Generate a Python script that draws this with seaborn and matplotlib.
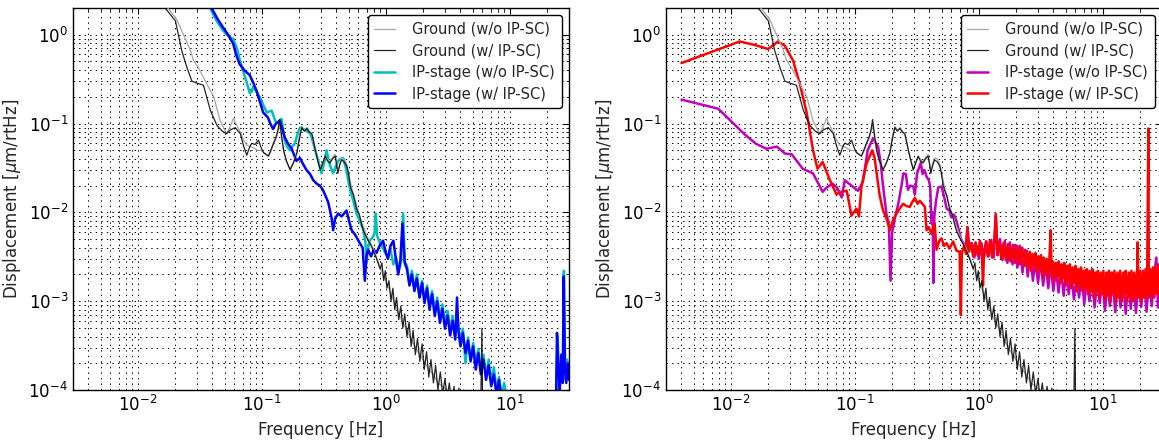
import matplotlib
matplotlib.use("Agg")
import matplotlib.pyplot as plt
import numpy as np
import pandas as pd
import seaborn as sns

# Amplitude spectral densities, (frequency [Hz], displacement [um/rtHz])

GROUND_WO = [
    (0.004, 20), (0.008, 10), (0.012, 5.0), (0.0170, 2.1), (0.0205, 1.5),
    (0.0235, 0.98), (0.0262, 0.70), (0.0282, 0.51), (0.0310, 0.42), (0.0338, 0.33),
    (0.0370, 0.26), (0.0410, 0.20), (0.0460, 0.108), (0.0520, 0.077), (0.0560, 0.095),
    (0.0590, 0.114), (0.0630, 0.095), (0.0670, 0.080), (0.0715, 0.065), (0.0756, 0.057),
    (0.0810, 0.055), (0.0860, 0.053), (0.0920, 0.050), (0.0980, 0.050), (0.103, 0.048),
    (0.108, 0.045), (0.113, 0.043), (0.118, 0.048), (0.124, 0.058), (0.130, 0.067),
    (0.135, 0.080), (0.139, 0.100), (0.144, 0.070), (0.150, 0.048), (0.158, 0.037),
    (0.169, 0.031), (0.180, 0.037), (0.192, 0.048), (0.200, 0.070), (0.210, 0.093),
    (0.220, 0.085), (0.231, 0.090), (0.242, 0.082), (0.253, 0.075), (0.262, 0.060),
    (0.270, 0.050), (0.283, 0.039), (0.296, 0.031), (0.310, 0.037), (0.324, 0.042),
    (0.338, 0.040), (0.354, 0.037), (0.372, 0.042), (0.390, 0.045), (0.400, 0.037),
    (0.410, 0.029), (0.425, 0.036), (0.440, 0.041), (0.462, 0.040), (0.485, 0.035),
    (0.500, 0.028), (0.530, 0.019), (0.580, 0.012), (0.635, 0.0080), (0.700, 0.0055),
    (0.800, 0.0038), (0.900, 0.0024), (0.960, 0.0019), (1.02, 0.0016), (1.10, 0.0012),
    (1.18, 0.00095), (1.27, 0.00072), (1.37, 0.00058), (1.48, 0.00047), (1.60, 0.00037),
    (1.73, 0.00030), (1.88, 0.00025), (2.04, 0.00021), (2.22, 0.00017), (2.42, 0.00015),
    (2.63, 0.00012), (2.87, 0.00011), (3.12, 0.00010), (3.55, 0.000085), (4.05, 0.00007),
    (5.0, 0.00005), (9.0, 0.00003), (30.0, 0.00002),
]

GROUND_W = [
    (0.004, 20), (0.008, 10), (0.012, 5.0), (0.0166, 2.0), (0.0201, 1.43),
    (0.0226, 0.66), (0.0250, 0.42), (0.0273, 0.30), (0.0300, 0.285), (0.0338, 0.27),
    (0.0385, 0.14), (0.0435, 0.095), (0.0480, 0.082), (0.052, 0.077), (0.056, 0.085),
    (0.061, 0.090), (0.067, 0.077), (0.0715, 0.055), (0.0756, 0.044), (0.080, 0.055),
    (0.083, 0.060), (0.088, 0.058), (0.094, 0.065), (0.098, 0.055), (0.103, 0.047),
    (0.108, 0.045), (0.113, 0.043), (0.118, 0.050), (0.124, 0.060), (0.130, 0.070),
    (0.135, 0.085), (0.139, 0.111), (0.144, 0.075), (0.150, 0.050), (0.158, 0.038),
    (0.169, 0.030), (0.180, 0.036), (0.192, 0.047), (0.200, 0.065), (0.210, 0.090),
    (0.220, 0.082), (0.231, 0.088), (0.242, 0.080), (0.253, 0.077), (0.262, 0.062),
    (0.270, 0.050), (0.283, 0.038), (0.296, 0.030), (0.310, 0.036), (0.324, 0.043),
    (0.338, 0.038), (0.354, 0.036), (0.372, 0.040), (0.390, 0.043), (0.400, 0.035),
    (0.410, 0.0275), (0.425, 0.034), (0.440, 0.039), (0.462, 0.037), (0.485, 0.033),
    (0.500, 0.027), (0.516, 0.020), (0.530, 0.0177), (0.550, 0.0155), (0.580, 0.011),
    (0.610, 0.0095), (0.635, 0.0075), (0.660, 0.0062), (0.700, 0.0052), (0.750, 0.0044),
    (0.800, 0.0036), (0.850, 0.0029), (0.900, 0.0023), (0.93, 0.0027), (0.96, 0.0017),
    (0.99, 0.0022), (1.02, 0.0014), (1.06, 0.0017), (1.10, 0.0010), (1.14, 0.0014),
    (1.18, 0.0008), (1.22, 0.0011), (1.27, 0.00062), (1.32, 0.00088), (1.37, 0.00050),
    (1.42, 0.00072), (1.48, 0.00040), (1.54, 0.00058), (1.60, 0.00031), (1.66, 0.00047),
    (1.73, 0.00025), (1.80, 0.00038), (1.88, 0.00021), (1.96, 0.00033), (2.04, 0.00017),
    (2.13, 0.00027), (2.22, 0.00014), (2.31, 0.00022), (2.42, 0.00012), (2.52, 0.00019),
    (2.63, 0.00010), (2.75, 0.00016), (2.87, 0.00009), (3.00, 0.000135), (3.12, 0.00008),
    (3.25, 0.00012), (3.40, 0.00007), (3.55, 0.00011), (3.70, 0.00006), (3.88, 0.000105),
    (4.05, 0.00005), (4.25, 0.0001), (4.45, 0.00005), (4.70, 0.000095), (5.00, 0.00004),
    (5.40, 0.00008), (5.80, 0.00004), (5.95, 0.00049), (6.05, 0.00004), (7.00, 0.000035),
    (9.00, 0.00003), (15.0, 0.000025), (30.0, 0.00002),
]

# Horizontal IP-stage, without / with IP sensor correction (left panel)
IPX_WO = [
    (0.004, 40), (0.010, 15), (0.020, 6.0), (0.030, 3.2), (0.0382, 2.0),
    (0.0432, 1.43), (0.0488, 1.11), (0.055, 0.93), (0.0588, 0.90), (0.063, 0.70),
    (0.067, 0.50), (0.071, 0.38), (0.075, 0.30), (0.080, 0.22), (0.083, 0.23),
    (0.085, 0.26), (0.090, 0.23), (0.096, 0.20), (0.103, 0.16), (0.110, 0.133),
    (0.120, 0.14), (0.126, 0.115), (0.131, 0.10), (0.137, 0.105), (0.144, 0.113),
    (0.153, 0.065), (0.160, 0.055), (0.168, 0.050), (0.176, 0.055), (0.185, 0.060),
    (0.195, 0.078), (0.203, 0.090), (0.212, 0.088), (0.222, 0.085), (0.232, 0.082),
    (0.244, 0.078), (0.252, 0.070), (0.260, 0.060), (0.272, 0.048), (0.285, 0.038),
    (0.303, 0.0275), (0.318, 0.036), (0.333, 0.050), (0.343, 0.040), (0.354, 0.034),
    (0.376, 0.0275), (0.394, 0.033), (0.413, 0.038), (0.430, 0.040), (0.453, 0.041),
    (0.475, 0.032), (0.497, 0.023), (0.520, 0.017), (0.545, 0.0137), (0.580, 0.0097),
    (0.620, 0.0078), (0.660, 0.0063), (0.685, 0.0045), (0.700, 0.0027), (0.715, 0.0038),
    (0.740, 0.0048), (0.780, 0.0052), (0.810, 0.0058), (0.830, 0.0097), (0.850, 0.0055),
    (0.895, 0.0045), (0.940, 0.0040), (0.990, 0.0035), (1.04, 0.0032), (1.09, 0.0038),
    (1.15, 0.0026), (1.21, 0.0031), (1.27, 0.0022), (1.33, 0.0028), (1.38, 0.0097),
    (1.42, 0.0028), (1.48, 0.0025), (1.55, 0.0016), (1.62, 0.0022), (1.70, 0.0014),
    (1.78, 0.0020), (1.87, 0.0011), (1.96, 0.0017), (2.05, 0.0010), (2.15, 0.0015),
    (2.25, 0.00088), (2.36, 0.0013), (2.48, 0.00078), (2.60, 0.0011), (2.73, 0.00064),
    (2.86, 0.00092), (3.00, 0.00055), (3.15, 0.00078), (3.30, 0.00048), (3.46, 0.00068),
    (3.63, 0.00041), (3.80, 0.00060), (3.99, 0.00035), (4.18, 0.00049), (4.39, 0.00020),
    (4.60, 0.00039), (4.83, 0.00022), (5.06, 0.00034), (5.31, 0.00019), (5.57, 0.00029),
    (5.84, 0.00016), (6.13, 0.00025), (6.43, 0.00014), (6.75, 0.00022), (7.08, 0.00012),
    (7.43, 0.00018), (7.80, 0.00010), (8.18, 0.00014), (8.58, 0.000085), (9.00, 0.00012),
    (9.5, 0.00008), (11.0, 0.00006), (15.0, 0.00005), (20.0, 0.00004), (23.5, 0.00006),
    (24.3, 0.00040), (25.0, 0.00012), (26.0, 0.00020), (27.0, 0.00013), (27.3, 0.0022),
    (28.0, 0.00015), (29.0, 0.00022), (30.0, 0.00015),
]

IPX_W = [
    (0.004, 40), (0.010, 15), (0.020, 6.0), (0.030, 3.0), (0.0393, 2.0),
    (0.0440, 1.5), (0.0488, 1.2), (0.054, 0.98), (0.0588, 0.79), (0.062, 0.60),
    (0.066, 0.47), (0.072, 0.40), (0.080, 0.35), (0.086, 0.28), (0.0906, 0.235),
    (0.096, 0.18), (0.1025, 0.133), (0.107, 0.125), (0.112, 0.117), (0.117, 0.10),
    (0.123, 0.087), (0.130, 0.10), (0.140, 0.108), (0.147, 0.085), (0.153, 0.070),
    (0.162, 0.060), (0.174, 0.052), (0.190, 0.038), (0.203, 0.041), (0.215, 0.035),
    (0.229, 0.030), (0.245, 0.027), (0.260, 0.023), (0.277, 0.021), (0.294, 0.020),
    (0.310, 0.018), (0.322, 0.016), (0.343, 0.013), (0.365, 0.0087), (0.376, 0.0063),
    (0.390, 0.0085), (0.413, 0.0097), (0.440, 0.0090), (0.482, 0.0105), (0.505, 0.0080),
    (0.530, 0.0063), (0.570, 0.0055), (0.617, 0.0045), (0.650, 0.0040), (0.677, 0.0017),
    (0.700, 0.0033), (0.720, 0.0038), (0.760, 0.0032), (0.800, 0.0038), (0.840, 0.0035),
    (0.890, 0.0042), (0.950, 0.0048), (1.00, 0.0035), (1.04, 0.0030), (1.09, 0.0042),
    (1.15, 0.0048), (1.20, 0.0031), (1.26, 0.0020), (1.31, 0.0029), (1.36, 0.0075),
    (1.42, 0.0027), (1.48, 0.0023), (1.55, 0.0015), (1.62, 0.0020), (1.70, 0.0013),
    (1.78, 0.0018), (1.87, 0.0011), (1.96, 0.0016), (2.05, 0.00095), (2.15, 0.0014),
    (2.25, 0.0008), (2.36, 0.0012), (2.48, 0.00068), (2.60, 0.0010), (2.73, 0.00057),
    (2.86, 0.00082), (3.00, 0.00049), (3.15, 0.00069), (3.30, 0.00041), (3.46, 0.00060),
    (3.63, 0.00037), (3.75, 0.0011), (3.85, 0.00046), (4.00, 0.00031), (4.18, 0.00044),
    (4.39, 0.00026), (4.60, 0.00036), (4.83, 0.00021), (5.06, 0.00031), (5.31, 0.00017),
    (5.57, 0.00026), (5.84, 0.00015), (6.13, 0.00022), (6.43, 0.00013), (6.75, 0.00019),
    (7.08, 0.00011), (7.43, 0.00015), (7.80, 0.00009), (8.18, 0.00013), (8.58, 0.000080),
    (9.0, 0.00009), (10.0, 0.00007), (15.0, 0.00004), (20.0, 0.00004), (23.5, 0.00005),
    (24.0, 0.00044), (24.6, 0.00018), (25.3, 0.00010), (26.0, 0.00025), (26.7, 0.00012),
    (27.2, 0.0019), (27.8, 0.00018), (28.5, 0.00012), (29.3, 0.00020), (30.0, 0.00013),
]

# Vertical IP-stage, without / with IP sensor correction (right panel)
IPY_WO = [
    (0.0040, 0.186), (0.0079, 0.147), (0.0105, 0.10), (0.0130, 0.075), (0.016, 0.059),
    (0.0194, 0.052), (0.0235, 0.055), (0.0273, 0.046), (0.031, 0.045), (0.034, 0.038),
    (0.038, 0.031), (0.046, 0.0275), (0.050, 0.022), (0.055, 0.017), (0.059, 0.019),
    (0.066, 0.021), (0.072, 0.019), (0.0783, 0.0147), (0.083, 0.023), (0.094, 0.020),
    (0.106, 0.0175), (0.116, 0.022), (0.127, 0.050), (0.140, 0.068), (0.146, 0.062),
    (0.154, 0.055), (0.162, 0.035), (0.168, 0.021), (0.180, 0.0095), (0.188, 0.0075),
    (0.194, 0.0017), (0.200, 0.0060), (0.210, 0.0085), (0.224, 0.0125), (0.238, 0.020),
    (0.246, 0.0275), (0.258, 0.027), (0.268, 0.018), (0.280, 0.020), (0.296, 0.0196),
    (0.305, 0.016), (0.318, 0.0275), (0.330, 0.032), (0.340, 0.036), (0.352, 0.027),
    (0.364, 0.030), (0.380, 0.025), (0.395, 0.023), (0.405, 0.0196), (0.415, 0.0075),
    (0.424, 0.010), (0.430, 0.0016), (0.438, 0.009), (0.450, 0.013), (0.470, 0.019),
    (0.500, 0.0196), (0.525, 0.015), (0.550, 0.011), (0.580, 0.0105), (0.600, 0.0088),
    (0.630, 0.0095), (0.660, 0.0080), (0.700, 0.0058), (0.720, 0.0050), (0.750, 0.0045),
    (0.780, 0.0040), (0.810, 0.0068), (0.840, 0.0038), (0.88, 0.0045), (0.92, 0.0031),
    (0.96, 0.0042), (1.00, 0.0030), (1.05, 0.0045), (1.10, 0.0031), (1.15, 0.0047),
    (1.20, 0.0032), (1.26, 0.0049), (1.32, 0.0031), (1.37, 0.0093), (1.42, 0.0033),
    (1.48, 0.0050), (1.55, 0.0029), (1.62, 0.0048), (1.70, 0.0027), (1.78, 0.0046),
    (1.87, 0.0026), (1.96, 0.0043), (2.05, 0.0024), (2.15, 0.0042), (2.25, 0.0021),
    (2.36, 0.0038), (2.48, 0.0019), (2.60, 0.0034), (2.73, 0.0017), (2.86, 0.0030),
    (3.00, 0.0016), (3.15, 0.0029), (3.30, 0.0015), (3.46, 0.0027), (3.63, 0.0014),
    (3.80, 0.0026), (3.99, 0.0013), (4.18, 0.0024), (4.39, 0.00125), (4.60, 0.0023),
    (4.83, 0.00115), (5.06, 0.0022), (5.31, 0.0012), (5.57, 0.0021), (5.84, 0.00105),
    (6.13, 0.0019), (6.43, 0.0011), (6.75, 0.0020), (7.08, 0.00092), (7.43, 0.0018),
    (7.80, 0.0010), (8.18, 0.0019), (8.58, 0.00085), (9.00, 0.0017), (9.45, 0.00095),
    (9.9, 0.0018), (10.4, 0.00078), (10.9, 0.0016), (11.4, 0.00088), (12.0, 0.0017),
    (12.6, 0.00075), (13.2, 0.0018), (13.9, 0.00085), (14.6, 0.0016), (15.3, 0.00072),
    (16.0, 0.0017), (16.8, 0.00082), (17.6, 0.0018), (18.5, 0.00074), (19.4, 0.0017),
    (20.4, 0.00086), (21.4, 0.0019), (22.5, 0.00076), (23.6, 0.0018), (24.8, 0.00088),
    (26.0, 0.0020), (27.0, 0.0031), (27.8, 0.00085), (28.8, 0.0020), (30.0, 0.0009),
]

IPY_W = [
    (0.0040, 0.48), (0.0118, 0.84), (0.0160, 0.76), (0.0200, 0.69), (0.0240, 0.84),
    (0.0273, 0.75), (0.0318, 0.51), (0.0360, 0.28), (0.0410, 0.13), (0.0460, 0.050),
    (0.0500, 0.031), (0.0550, 0.037), (0.0630, 0.023), (0.0710, 0.016), (0.0780, 0.017),
    (0.0860, 0.0175), (0.0940, 0.0092), (0.1030, 0.011), (0.1080, 0.009), (0.1130, 0.0195),
    (0.1240, 0.035), (0.1380, 0.050), (0.1440, 0.042), (0.1500, 0.0275), (0.1580, 0.016),
    (0.1640, 0.0125), (0.1690, 0.0105), (0.1800, 0.0085), (0.1920, 0.0063), (0.2040, 0.0083),
    (0.2170, 0.0097), (0.2300, 0.011), (0.2450, 0.0125), (0.2600, 0.0118), (0.2770, 0.0115),
    (0.2900, 0.013), (0.3050, 0.0146), (0.3200, 0.0125), (0.3340, 0.0135), (0.3500, 0.0125),
    (0.3670, 0.0115), (0.3790, 0.0063), (0.3950, 0.0068), (0.4150, 0.0057), (0.4400, 0.0075),
    (0.4560, 0.0038), (0.4800, 0.0048), (0.5000, 0.0051), (0.5250, 0.0042), (0.5500, 0.0045),
    (0.5800, 0.0039), (0.6200, 0.0047), (0.6600, 0.0037), (0.7000, 0.0036), (0.7160, 0.0007),
    (0.7300, 0.0035), (0.7600, 0.0042), (0.7900, 0.0034), (0.8100, 0.0068), (0.8300, 0.0036),
    (0.8600, 0.0045), (0.9000, 0.0032), (0.9400, 0.0046), (0.9800, 0.0033), (1.0200, 0.0048),
    (1.0600, 0.0032), (1.0800, 0.0015), (1.1000, 0.0034), (1.1400, 0.0047), (1.1800, 0.0032),
    (1.2300, 0.0048), (1.2800, 0.0031), (1.3300, 0.0046), (1.3700, 0.0096), (1.4100, 0.0033),
    (1.4600, 0.0046), (1.5200, 0.0030), (1.5800, 0.0045), (1.6500, 0.0029), (1.7200, 0.0044),
    (1.8000, 0.0028), (1.8800, 0.0043), (1.9600, 0.0027), (2.0500, 0.0042), (2.1400, 0.0026),
    (2.2400, 0.0040), (2.3400, 0.0025), (2.44, 0.0037), (2.51, 0.0024), (2.58, 0.0036),
    (2.64, 0.0022), (2.71, 0.0034), (2.78, 0.0025), (2.86, 0.0035), (2.93, 0.0021),
    (3.01, 0.0032), (3.09, 0.0023), (3.17, 0.0033), (3.26, 0.0019), (3.34, 0.0031),
    (3.43, 0.0022), (3.52, 0.0030), (3.61, 0.0018), (3.70, 0.0029), (3.80, 0.0063),
    (3.86, 0.0020), (3.96, 0.0028), (4.07, 0.0017), (4.17, 0.0027), (4.28, 0.0019),
    (4.40, 0.0028), (4.51, 0.0016), (4.63, 0.0026), (4.75, 0.0018), (4.88, 0.0027),
    (5.01, 0.0015), (5.14, 0.0025), (5.28, 0.0017), (5.42, 0.0026), (5.56, 0.0014),
    (5.71, 0.0024), (5.86, 0.0016), (6.01, 0.0025), (6.17, 0.0013), (6.33, 0.0023),
    (6.50, 0.0015), (6.67, 0.0024), (6.85, 0.0013), (7.03, 0.0022), (7.22, 0.0014),
    (7.41, 0.0023), (7.60, 0.0012), (7.80, 0.0022), (8.01, 0.0013), (8.22, 0.0023),
    (8.44, 0.0011), (8.66, 0.0021), (8.89, 0.0013), (9.12, 0.0022), (9.36, 0.0011),
    (9.61, 0.0021), (9.87, 0.0012), (10.1, 0.0022), (10.4, 0.00105), (10.7, 0.0021),
    (10.9, 0.0012), (11.2, 0.0022), (11.5, 0.0010), (11.8, 0.0021), (12.1, 0.0012),
    (12.4, 0.0022), (12.8, 0.0010), (13.1, 0.0021), (13.5, 0.0011), (13.8, 0.0022),
    (14.2, 0.0010), (14.6, 0.0021), (14.9, 0.0012), (15.3, 0.0022), (15.7, 0.0010),
    (16.2, 0.0021), (16.6, 0.0011), (17.0, 0.0022), (17.5, 0.0010), (17.9, 0.0021),
    (18.4, 0.0011), (18.9, 0.0022), (19.1, 0.0046), (19.4, 0.0011), (19.9, 0.0022),
    (20.4, 0.0010), (21.0, 0.0022), (21.5, 0.0011), (22.1, 0.0023), (22.7, 0.0011),
    (23.3, 0.088), (23.5, 0.0011), (24.0, 0.0023), (24.6, 0.0012), (25.3, 0.0024),
    (26.0, 0.0011), (26.6, 0.0024), (27.3, 0.0012), (28.0, 0.0026), (28.8, 0.0012),
    (29.5, 0.0025), (30.0, 0.0013),
]

LABELS = ["Ground (w/o IP-SC)", "Ground (w/ IP-SC)",
          "IP-stage (w/o IP-SC)", "IP-stage (w/ IP-SC)"]
X_LIMITS = (3e-3, 30)
Y_LIMITS = (1e-4, 2)


def to_frame(pairs):
    return pd.DataFrame(pairs, columns=["freq", "asd"])


sns.set_style("white")
plt.rcParams.update({
    "font.family": ["DejaVu Sans"],
    "mathtext.fontset": "dejavusans",
    "axes.edgecolor": "black",
    "axes.linewidth": 1.0,
    "lines.scale_dashes": False,
    "xtick.direction": "in",
    "ytick.direction": "in",
    "xtick.major.size": 4,
    "ytick.major.size": 4,
    "xtick.minor.size": 2,
    "ytick.minor.size": 2,
    "xtick.color": "black",
    "ytick.color": "black",
    "xtick.labelsize": 12,
    "ytick.labelsize": 12,
    "axes.labelsize": 12,
})

fig = plt.figure(figsize=(11.59, 4.41), dpi=100)
W, H = 1159.0, 441.0
ax_left = fig.add_axes([73 / W, 51 / H, 496 / W, 382 / H])
ax_right = fig.add_axes([666 / W, 51 / H, 496 / W, 382 / H])


def draw_panel(ax, stage_wo, stage_w, color_wo, color_w):
    series = [
        (GROUND_WO, "#a6a6a6", 0.9, 1.0, 3),
        (GROUND_W, "black", 0.9, 0.85, 4),
        (stage_wo, color_wo, 1.8, 1.0, 1),
        (stage_w, color_w, 1.8, 1.0, 2),
    ]
    for (pairs, color, lw, alpha, z), label in zip(series, LABELS):
        df = to_frame(pairs)
        sns.lineplot(data=df, x="freq", y="asd", ax=ax, color=color,
                     linewidth=lw, alpha=alpha, label=label, zorder=z,
                     sort=False, estimator=None)
    ax.set_xscale("log")
    ax.set_yscale("log")
    ax.set_xlim(*X_LIMITS)
    ax.set_ylim(*Y_LIMITS)
    ax.grid(True, which="both", linestyle=(0, (1, 3)), color="black",
            linewidth=0.7)
    ax.tick_params(which="both", top=True, right=True)
    ax.set_xlabel("Frequency [Hz]")
    ax.set_ylabel(r"Displacement [$\mu$m/rtHz]")
    leg = ax.legend(loc="upper right", fontsize=10.5, frameon=True,
                    fancybox=True, framealpha=1.0, edgecolor="black",
                    handlelength=1.4, handletextpad=1.2, labelspacing=0.45,
                    borderpad=0.45, borderaxespad=0.5)
    leg.get_frame().set_linewidth(1.0)
    for spine in ax.spines.values():
        spine.set_visible(True)
        spine.set_color("black")


draw_panel(ax_left, IPX_WO, IPX_W, "#00bfbf", "#0000ff")
draw_panel(ax_right, IPY_WO, IPY_W, "#bf00bf", "#ff0000")

fig.savefig("out.png", dpi=100)
